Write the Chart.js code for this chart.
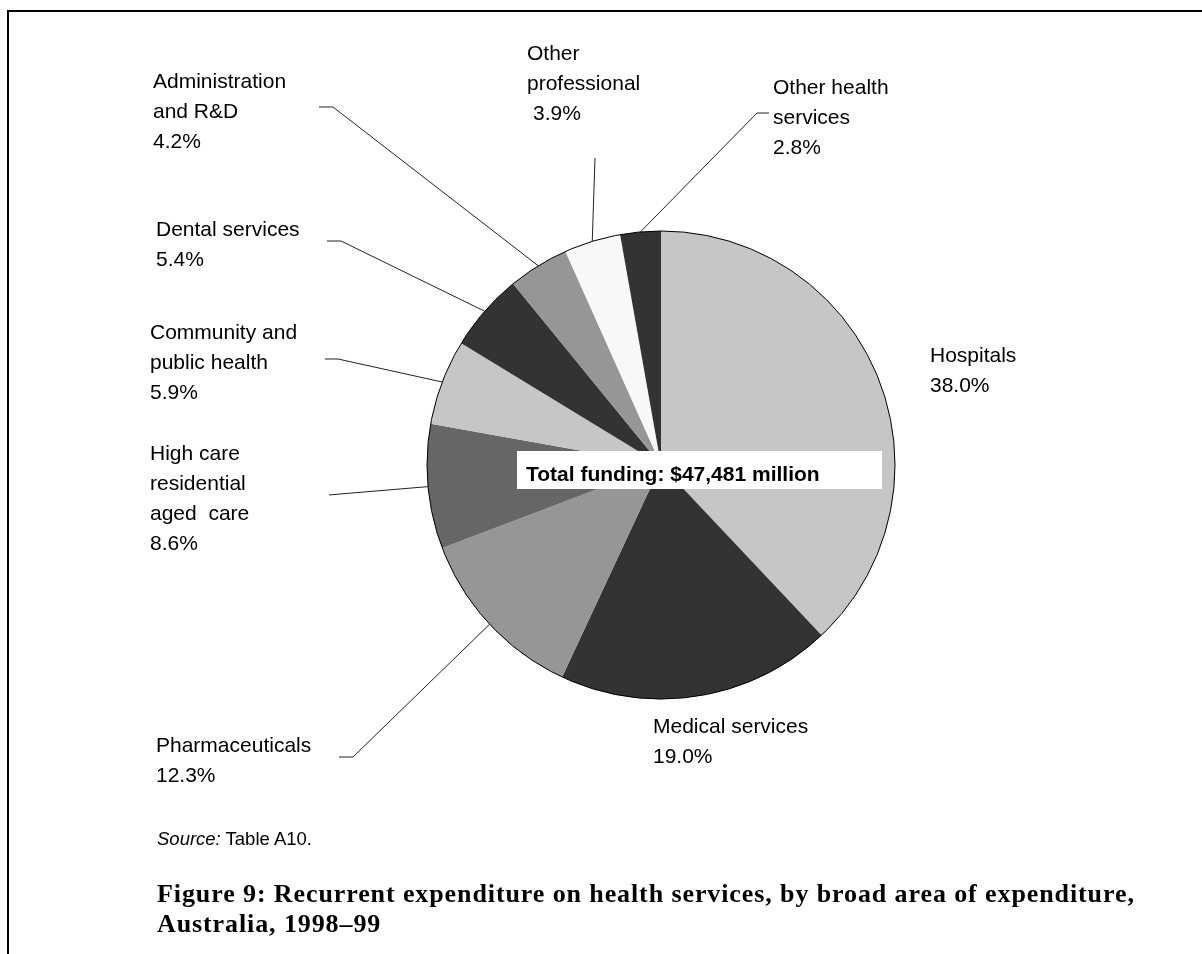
<!DOCTYPE html>
<html>
<head>
<meta charset="utf-8">
<title>Figure 9</title>
<script src="https://cdn.jsdelivr.net/npm/chart.js@4.4.1/dist/chart.umd.min.js"></script>
<style>
  body { margin: 0; background: #fff; }
  #pagina { position: relative; width: 1202px; height: 954px; overflow: hidden; }
  #grafico { position: absolute; left: 0; top: 0; }
  #cornice { position: absolute; left: 7px; top: 10px; width: 1300px; height: 1000px;
             border-top: 2px solid #000; border-left: 2px solid #000; }
  #fonte { position: absolute; left: 157px; top: 830px; font: 18.5px/18px "Liberation Sans", Arial, sans-serif; color: #000; white-space: nowrap; }
  #didascalia { position: absolute; left: 157px; top: 879px; font: bold 26px/30px "Liberation Serif", "Times New Roman", serif;
                letter-spacing: 0.9px; color: #000; white-space: nowrap; }
</style>
</head>
<body>
<div id="pagina">
  <canvas id="grafico" width="1202" height="954"></canvas>
  <div id="cornice"></div>
  <div id="fonte"><i>Source:</i> Table A10.</div>
  <div id="didascalia">Figure 9: Recurrent expenditure on health services, by broad area of expenditure,<br>Australia, 1998&#8211;99</div>
</div>
<script>
// dati
var categorie = ["Hospitals", "Medical services", "Pharmaceuticals", "High care residential aged care",
                 "Community and public health", "Dental services", "Administration and R&D",
                 "Other professional", "Other health services"];
var quote = [38.0, 19.0, 12.3, 8.6, 5.9, 5.4, 4.2, 3.9, 2.8];
var righeEtichette = [["Hospitals"], ["Medical services"], ["Pharmaceuticals"], ["High care", "residential", "aged  care"],
                      ["Community and", "public health"], ["Dental services"], ["Administration", "and R&D"],
                      ["Other", "professional"], ["Other health", "services"]];
var totale = "Total funding: $47,481 million";

// stile e posizioni delle etichette
var colori = ["#c6c6c6", "#333333", "#969696", "#666666", "#c6c6c6", "#333333", "#969696", "#f8f8f8", "#333333"];
var posEtichette = [[930, 362], [653, 733], [156, 752], [150, 460], [150, 339], [156, 236], [153, 88], [527, 60], [773, 94]];
var rientroPct = [0, 0, 0, 0, 0, 0, 0, 6, 0];
var guide = [null, null, [[339, 757], [353, 757]], [[329, 495], [340, 494]], [[325, 359], [338, 359]],
             [[327, 241], [341, 241]], [[319, 107], [333, 107]], [[595, 158], [595, 158]], [[769, 113], [757, 113]]];

var etichettePlugin = {
    id: "etichette",
    afterDatasetsDraw: function (chart) {
        var ctx = chart.ctx;
        var archi = chart.getDatasetMeta(0).data;
        var cx = archi[0].x, cy = archi[0].y, r = archi[0].outerRadius;
        ctx.save();
        // bordo esterno della torta
        ctx.beginPath();
        ctx.arc(cx, cy, r, 0, Math.PI * 2);
        ctx.lineWidth = 1;
        ctx.strokeStyle = "#000";
        ctx.stroke();
        // linee guida
        ctx.lineWidth = 1;
        ctx.strokeStyle = "#222";
        for (let i = 0; i < archi.length; i++) {
            if (!guide[i]) continue;
            let a = (archi[i].startAngle + archi[i].endAngle) / 2;
            ctx.beginPath();
            ctx.moveTo(guide[i][0][0], guide[i][0][1]);
            ctx.lineTo(guide[i][1][0], guide[i][1][1]);
            ctx.lineTo(cx + r * Math.cos(a), cy + r * Math.sin(a));
            ctx.stroke();
        }
        // testi
        ctx.fillStyle = "#000";
        ctx.textBaseline = "alphabetic";
        ctx.textAlign = "left";
        ctx.font = '21px "Liberation Sans", Arial, sans-serif';
        for (let i = 0; i < archi.length; i++) {
            let x = posEtichette[i][0], y = posEtichette[i][1];
            let righe = righeEtichette[i];
            for (let j = 0; j < righe.length; j++) {
                ctx.fillText(righe[j], x, y + j * 30);
            }
            ctx.fillText(quote[i].toFixed(1) + "%", x + rientroPct[i], y + righe.length * 30);
        }
        // riquadro del totale
        ctx.fillStyle = "#fff";
        ctx.fillRect(517, 451, 365, 38);
        ctx.fillStyle = "#000";
        ctx.font = 'bold 21px "Liberation Sans", Arial, sans-serif';
        ctx.fillText(totale, 526, 481);
        ctx.restore();
    }
};

var grafico = document.getElementById("grafico").getContext("2d");
var chart = new Chart(grafico, {
    type: "pie",
    data: {
        labels: categorie,
        datasets: [{
            data: quote,
            backgroundColor: colori,
            borderWidth: 0,
            hoverOffset: 0,
            offset: 0
        }]
    },
    options: {
        responsive: false,
        animation: false,
        events: [],
        radius: 234,
        layout: { padding: { left: 427, right: 307, top: 231, bottom: 255 } },
        plugins: {
            legend: { display: false },
            tooltip: { enabled: false }
        }
    },
    plugins: [etichettePlugin]
});
</script>
</body>
</html>
